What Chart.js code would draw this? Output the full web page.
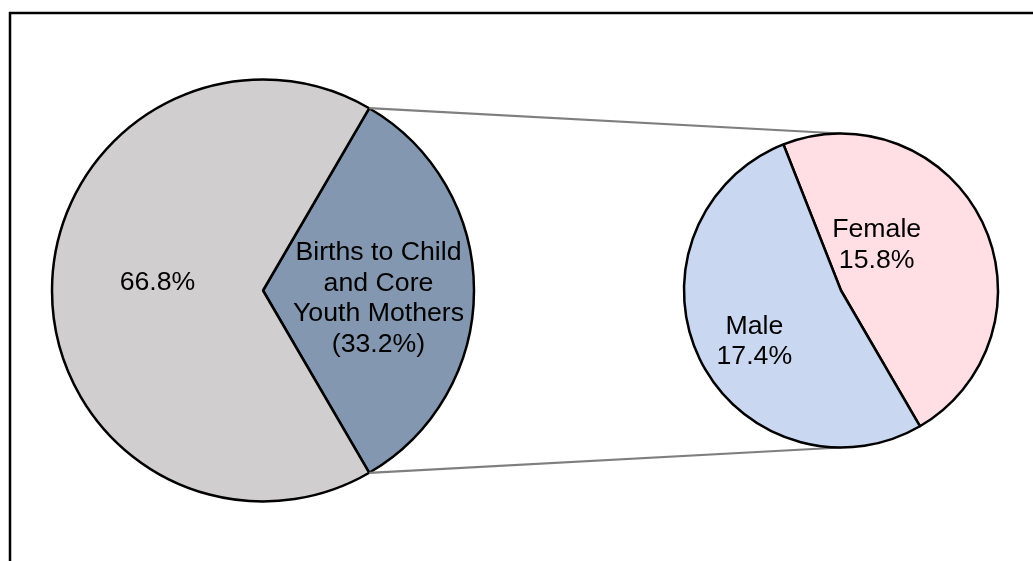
<!DOCTYPE html>
<html>
<head>
<meta charset="utf-8">
<script src="https://cdn.jsdelivr.net/npm/chart.js@4/dist/chart.umd.min.js"></script>
<style>
  body { margin: 0; background: #fff; }
  #wrap { position: relative; width: 1033px; height: 561px; overflow: hidden; }
  #wrap canvas { position: absolute; left: 0; top: 0; }
</style>
</head>
<body>
<div id="wrap">
  <canvas id="mainPie" width="1033" height="561"></canvas>
  <canvas id="splitPie" width="1033" height="561"></canvas>
</div>
<script>
// main pie: child/core youth mothers vs the rest
const mainCategories = ['Births to Child and Core Youth Mothers', 'All Other Births'];
const mainShares = [33.2, 66.8];
const mainColors = ['#8497B0', '#D0CECE'];

// breakdown of the highlighted slice
const splitCategories = ['Female', 'Male'];
const splitShares = [15.8, 17.4];
const splitColors = ['#FFDEE4', '#C9D7F0'];

const FONT = '26.7px "Liberation Sans", Arial, sans-serif';
const LINE_H = 30.5;

function pct(v) { return v.toFixed(1) + '%'; }

// text inside the slices, drawn at each arc's centre plus a nudge
const sliceText = {
  id: 'sliceText',
  afterDatasetsDraw(chart, args, opts) {
    const ctx = chart.ctx;
    const arcs = chart.getDatasetMeta(0).data;
    ctx.save();
    ctx.font = FONT;
    ctx.fillStyle = '#000';
    ctx.textAlign = 'center';
    ctx.textBaseline = 'middle';
    opts.lines.forEach((lines, i) => {
      const p = arcs[i].tooltipPosition();
      const x = p.x + opts.nudge[i][0];
      const y0 = p.y + opts.nudge[i][1] - (lines.length - 1) * LINE_H / 2;
      lines.forEach((t, k) => ctx.fillText(t, x, y0 + k * LINE_H));
    });
    ctx.restore();
  }
};

// outer box around the whole figure
const frame = {
  id: 'frame',
  beforeDraw(chart) {
    const ctx = chart.ctx;
    ctx.save();
    ctx.strokeStyle = '#000';
    ctx.lineWidth = 2.5;
    ctx.strokeRect(10, 13, 1200, 1200);
    ctx.restore();
  }
};

const mainChart = new Chart(document.getElementById('mainPie'), {
  type: 'pie',
  data: {
    labels: mainCategories,
    datasets: [{
      data: mainShares,
      backgroundColor: mainColors,
      borderColor: '#000',
      borderWidth: 2.5
    }]
  },
  options: {
    responsive: false,
    animation: false,
    events: [],
    radius: 211,
    // highlighted slice centred on the right-hand side
    rotation: 90 - mainShares[0] * 1.8,
    layout: { padding: { left: 48, right: 555, top: 75, bottom: 55 } },
    plugins: {
      legend: { display: false },
      tooltip: { enabled: false },
      sliceText: {
        lines: [
          ['Births to Child', 'and Core', 'Youth Mothers', '(' + pct(mainShares[0]) + ')'],
          [pct(mainShares[1])]
        ],
        nudge: [[10, 8], [0, -8]]
      }
    }
  },
  plugins: [frame, sliceText]
});

// grey lines joining the highlighted slice to the breakdown pie
const connectors = {
  id: 'connectors',
  beforeDatasetsDraw(chart) {
    const src = mainChart.getDatasetMeta(0).data[0];
    const dst = chart.getDatasetMeta(0).data[0];
    const ctx = chart.ctx;
    const r = src.outerRadius;
    ctx.save();
    ctx.strokeStyle = '#7F7F7F';
    ctx.lineWidth = 2.2;
    ctx.beginPath();
    ctx.moveTo(src.x + r * Math.cos(src.startAngle), src.y + r * Math.sin(src.startAngle));
    ctx.lineTo(dst.x, dst.y - dst.outerRadius);
    ctx.moveTo(src.x + r * Math.cos(src.endAngle), src.y + r * Math.sin(src.endAngle));
    ctx.lineTo(dst.x, dst.y + dst.outerRadius);
    ctx.stroke();
    ctx.restore();
  }
};

new Chart(document.getElementById('splitPie'), {
  type: 'pie',
  data: {
    labels: splitCategories,
    datasets: [{
      data: splitShares,
      backgroundColor: splitColors,
      borderColor: '#000',
      borderWidth: 2.5
    }]
  },
  options: {
    responsive: false,
    animation: false,
    events: [],
    radius: 157,
    rotation: -21.5,
    layout: { padding: { left: 676, right: 27, top: 75, bottom: 55 } },
    plugins: {
      legend: { display: false },
      tooltip: { enabled: false },
      sliceText: {
        lines: splitCategories.map((c, i) => [c, pct(splitShares[i])]),
        nudge: [[-35, -11], [-16, 17]]
      }
    }
  },
  plugins: [connectors, sliceText]
});
</script>
</body>
</html>
